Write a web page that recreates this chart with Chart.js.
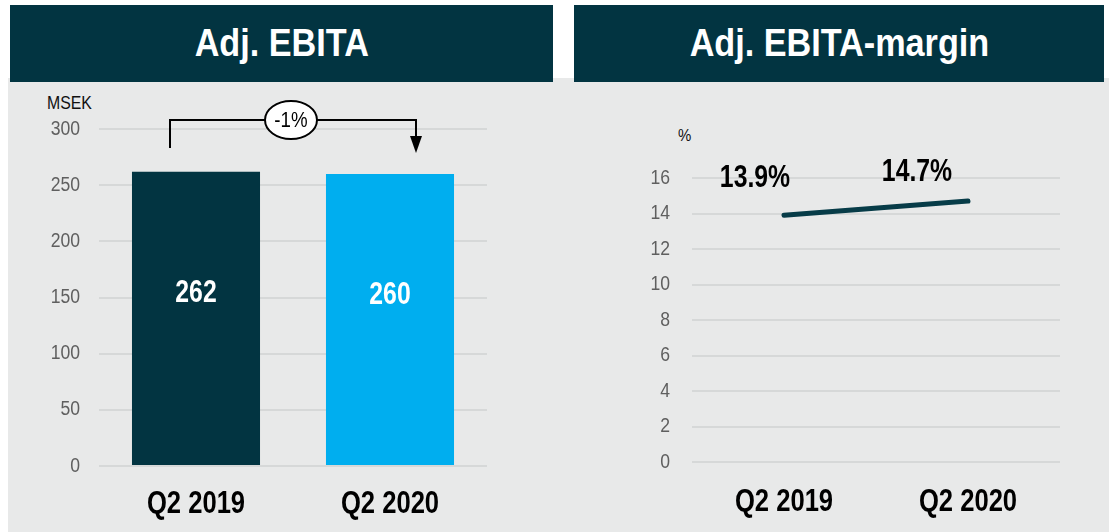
<!DOCTYPE html>
<html>
<head>
<meta charset="utf-8">
<script src="https://cdn.jsdelivr.net/npm/chart.js@4/dist/chart.umd.min.js"></script>
<style>
  body { margin: 0; width: 1109px; height: 532px; background: #fff; position: relative; overflow: hidden;
         font-family: "Liberation Sans", Arial, sans-serif; }
  .bg { position: absolute; left: 8px; top: 78px; right: 0; bottom: 0; background: #e8e9e9; }
  .head { position: absolute; top: 5px; height: 77px; background: #023441; color: #fff;
          font-weight: bold; font-size: 38px; display: flex; align-items: center; justify-content: center; }
  .head span { display: inline-block; transform: scaleX(0.9); }
  .unit { position: absolute; font-size: 18px; color: #111; transform: scaleX(0.88); transform-origin: left top; }
  canvas { position: absolute; top: 82px; }
</style>
</head>
<body>
<div class="bg"></div>
<div class="head" style="left:10px;width:543px;"><span>Adj. EBITA</span></div>
<div class="head" style="left:574px;width:530px;"><span>Adj. EBITA-margin</span></div>
<div class="unit" style="left:47px;top:93px;">MSEK</div>
<div class="unit" style="left:678px;top:126px;font-size:17px;">%</div>
<canvas id="ebita" width="553" height="450" style="left:0"></canvas>
<canvas id="margin" width="556" height="450" style="left:553px"></canvas>
<script>
const categories = ['Q2 2019', 'Q2 2020'];
const ebitaValues = [262, 260];
const marginValues = [13.9, 14.7];
const changeLabel = '-1%';

const FONT = '"Liberation Sans", Arial, sans-serif';
const NARROW = 0.8;
const gridColor = '#d6d8d8';
const tickColor = '#5f5f5f';

const fixWidth = w => axis => { axis.width = w; };
const fixHeight = h => axis => { axis.height = h; };

// the reference uses a narrow face, so squeeze the text horizontally
const narrowText = (ctx, text, x, y, align, sx = NARROW) => {
    ctx.save();
    ctx.translate(x, y);
    ctx.scale(sx, 1);
    ctx.textAlign = align;
    ctx.fillText(text, 0, 0);
    ctx.restore();
};

// tick labels drawn from the scales, in the narrow style
const narrowTicks = {
    id: 'narrowTicks',
    afterDraw(chart, args, opts) {
        const ctx = chart.ctx;
        const { x, y } = chart.scales;
        ctx.save();
        ctx.textBaseline = 'middle';
        ctx.fillStyle = tickColor;
        ctx.font = `20px ${FONT}`;
        y.ticks.forEach((t, i) => {
            narrowText(ctx, String(t.value), chart.chartArea.left - opts.yPad, y.getPixelForTick(i), 'right', 0.88);
        });
        ctx.fillStyle = '#000';
        ctx.font = `bold 32px ${FONT}`;
        x.ticks.forEach((t, i) => {
            narrowText(ctx, chart.data.labels[i], x.getPixelForTick(i), x.top + opts.xPad, 'center');
        });
        ctx.restore();
    }
};

// white value labels in the bars / bold labels above line points
const valueLabels = {
    id: 'valueLabels',
    afterDatasetsDraw(chart, args, opts) {
        const ctx = chart.ctx;
        const meta = chart.getDatasetMeta(0);
        const data = chart.data.datasets[0].data;
        ctx.save();
        ctx.font = `bold 31px ${FONT}`;
        ctx.fillStyle = opts.color;
        ctx.textBaseline = 'middle';
        meta.data.forEach((el, i) => {
            const off = opts.offsets[i];
            const y = (opts.inside ? (el.y + el.base) / 2 : el.y) + off[1];
            narrowText(ctx, opts.format(data[i]), el.x + off[0], y, 'center');
        });
        ctx.restore();
    }
};

// bracket arrow with the change bubble between the two bars
const changeArrow = {
    id: 'changeArrow',
    afterDatasetsDraw(chart) {
        const ctx = chart.ctx;
        const bars = chart.getDatasetMeta(0).data;
        const x0 = bars[0].x - 26, x1 = bars[1].x + 26;
        const top = chart.chartArea.top - 9;
        ctx.save();
        ctx.strokeStyle = '#000';
        ctx.lineWidth = 2;
        ctx.beginPath();
        ctx.moveTo(x0, top + 28);
        ctx.lineTo(x0, top);
        ctx.lineTo(x1, top);
        ctx.lineTo(x1, top + 18);
        ctx.stroke();
        ctx.fillStyle = '#000';
        ctx.beginPath();
        ctx.moveTo(x1 - 6, top + 16);
        ctx.lineTo(x1 + 6, top + 16);
        ctx.lineTo(x1, top + 33);
        ctx.closePath();
        ctx.fill();
        const cx = (x0 + x1) / 2 - 2;
        ctx.beginPath();
        ctx.ellipse(cx, top, 26, 19, 0, 0, Math.PI * 2);
        ctx.fillStyle = '#fff';
        ctx.fill();
        ctx.stroke();
        ctx.fillStyle = '#000';
        ctx.font = `22px ${FONT}`;
        ctx.textBaseline = 'middle';
        narrowText(ctx, changeLabel, cx, top + 1, 'center', 0.85);
        ctx.restore();
    }
};

const xAxis = height => ({
    grid: { display: false, drawTicks: false },
    border: { display: false },
    ticks: { display: false },
    afterFit: fixHeight(height)
});

const yAxis = (max, step, width) => ({
    min: 0, max,
    ticks: { stepSize: step, display: false },
    grid: { color: gridColor, lineWidth: 2, drawTicks: false },
    border: { display: false },
    afterFit: fixWidth(width)
});

new Chart(document.getElementById('ebita'), {
    type: 'bar',
    data: {
        labels: categories,
        datasets: [{
            data: ebitaValues,
            backgroundColor: ['#023441', '#00aeef'],
            barPercentage: 0.66,
            categoryPercentage: 1
        }]
    },
    options: {
        responsive: false,
        animation: false,
        layout: { padding: { top: 47, right: 66, left: 0, bottom: 0 } },
        scales: {
            x: xAxis(66),
            y: yAxis(300, 50, 99)
        },
        plugins: {
            legend: { display: false },
            tooltip: { enabled: false },
            narrowTicks: { yPad: 19, xPad: 38 },
            valueLabels: { color: '#fff', inside: true, offsets: [[0, -25], [0, -24]], format: v => String(v) }
        }
    },
    plugins: [valueLabels, changeArrow, narrowTicks]
});

new Chart(document.getElementById('margin'), {
    type: 'line',
    data: {
        labels: categories,
        datasets: [{
            data: marginValues,
            borderColor: '#073c48',
            borderWidth: 5,
            borderCapStyle: 'round',
            pointRadius: 0
        }]
    },
    options: {
        responsive: false,
        animation: false,
        layout: { padding: { top: 96, right: 49, left: 0, bottom: 0 } },
        scales: {
            x: { ...xAxis(70), offset: true },
            y: yAxis(16, 2, 139)
        },
        plugins: {
            legend: { display: false },
            tooltip: { enabled: false },
            narrowTicks: { yPad: 22, xPad: 40 },
            valueLabels: { color: '#000', inside: false, offsets: [[-29, -37], [-51, -29]], format: v => v.toFixed(1) + '%' }
        }
    },
    plugins: [valueLabels, narrowTicks]
});
</script>
</body>
</html>
